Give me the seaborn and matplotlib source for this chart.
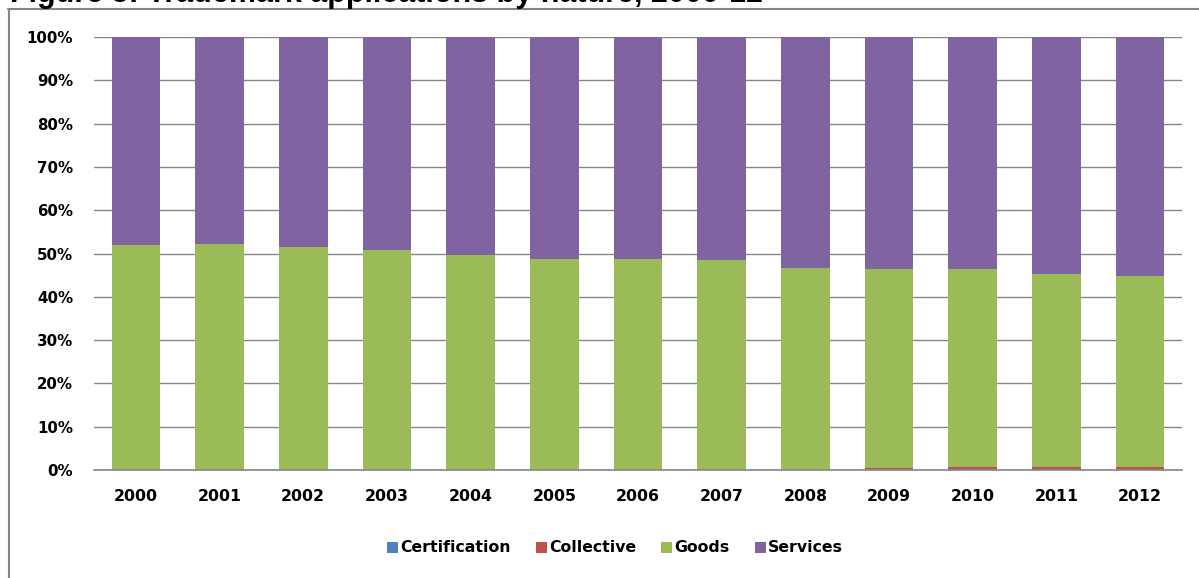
import matplotlib
matplotlib.use("Agg")
import matplotlib.pyplot as plt
from matplotlib.lines import Line2D
from matplotlib.patches import Patch
import seaborn as sns
import pandas as pd
import numpy as np

years = ["2000", "2001", "2002", "2003", "2004", "2005", "2006",
         "2007", "2008", "2009", "2010", "2011", "2012"]
certification = [0, 0, 0, 0, 0, 0, 0, 0, 0, 0.05, 0.3, 0.3, 0.1]
collective = [0, 0, 0, 0, 0, 0, 0, 0, 0, 0.35, 0.4, 0.4, 0.7]
goods = [52.0, 52.3, 51.5, 50.8, 49.6, 48.7, 48.7, 48.4, 46.7, 46.0, 45.7, 44.5, 43.9]
services = [100 - c - k - g for c, k, g in zip(certification, collective, goods)]

series_names = ["Certification", "Collective", "Goods", "Services"]
colors = ["#4F81BD", "#C0504D", "#9BBB59", "#8064A2"]

sns.set_theme(style="white")
plt.rcParams["font.family"] = ["DejaVu Sans"]

fig = plt.figure(figsize=(11.99, 5.78), dpi=100)
ax = fig.add_axes([94 / 1199, 1 - 470 / 578, (1182 - 94) / 1199, (470 - 37) / 578])

# cumulative tops, drawn tallest first so each layer sits over the previous one
stack = np.cumsum(np.array([certification, collective, goods, services]), axis=0)
for i in range(3, -1, -1):
    df = pd.DataFrame({"year": years, "value": stack[i]})
    sns.barplot(data=df, x="year", y="value", color=colors[i], saturation=1,
                width=0.58, ax=ax, zorder=2, linewidth=0)

ax.set_ylim(0, 100)
ax.set_xlim(-0.5, len(years) - 0.5)
ax.set_yticks(np.arange(0, 101, 10))
ax.set_yticklabels([f"{v}%" for v in range(0, 101, 10)])
ax.set_xlabel("")
ax.set_ylabel("")
ax.yaxis.grid(True, color="#868686", linewidth=1)
ax.set_axisbelow(True)
for s in ["top", "right", "left"]:
    ax.spines[s].set_visible(False)
ax.spines["bottom"].set_color("#868686")
ax.spines["bottom"].set_linewidth(1.2)
ax.tick_params(axis="y", left=False, length=0, pad=15, labelsize=10.8)
ax.tick_params(axis="x", bottom=False, length=0, pad=14, labelsize=11.3)
for lab in ax.get_xticklabels() + ax.get_yticklabels():
    lab.set_fontweight("bold")
    lab.set_color("#000000")

handles = [Patch(facecolor=c, edgecolor="none") for c in colors]
fig.legend(handles, series_names, loc="center", bbox_to_anchor=(615 / 1199, 1 - 548 / 578),
           ncol=4, frameon=False, handlelength=0.7, handleheight=0.7,
           handletextpad=0.15, columnspacing=1.6, labelcolor="#000000",
           prop={"weight": "bold", "size": 11.3, "family": "DejaVu Sans"})

# chart frame
fig.add_artist(Line2D([8 / 1199, 1.0], [1 - 8.5 / 578, 1 - 8.5 / 578],
                      color="#868686", linewidth=1.5, transform=fig.transFigure))
fig.add_artist(Line2D([8.5 / 1199, 8.5 / 1199], [0, 1 - 8.5 / 578],
                      color="#868686", linewidth=1.5, transform=fig.transFigure))

fig.text(10 / 1199, 1 - 2 / 578, "Figure 5: Trademark applications by nature, 2000-12",
         fontsize=22, fontweight="bold", family=["Liberation Sans", "DejaVu Sans"],
         color="#000000", va="baseline", ha="left")

fig.savefig("out.png", dpi=100)
